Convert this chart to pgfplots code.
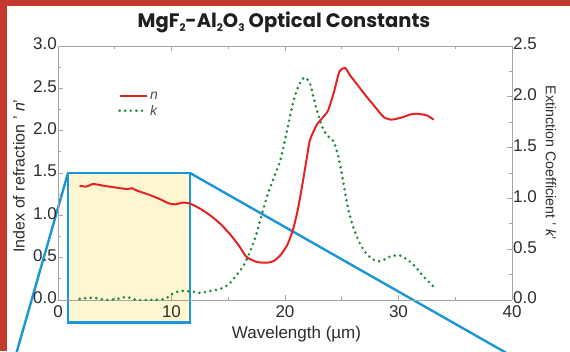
\documentclass[border=0pt]{standalone}
\usepackage{pgfplots}
\pgfplotsset{compat=1.18}
\usepackage{fontspec}
\setmainfont{Liberation Sans}
\newfontfamily\titlefont{Poppins}
\definecolor{nred}{RGB}{226,36,36}
\definecolor{kgreen}{RGB}{34,140,62}
\definecolor{cblue}{RGB}{28,150,214}
\definecolor{cyellow}{RGB}{253,246,208}
\definecolor{framered}{RGB}{196,58,46}
\definecolor{axgray}{RGB}{165,165,165}
\definecolor{txt}{RGB}{45,45,45}
\newcommand\tsub[1]{\raisebox{-0.35ex}{\fontsize{10.5}{10.5}\selectfont #1}}
\begin{document}
\begin{tikzpicture}
\useasboundingbox (-58pt,-51pt) rectangle (512pt,300pt);
\fill[white] (-58pt,-51pt) rectangle (512pt,300pt);
\begin{axis}[
  at={(0pt,0pt)}, anchor=south west,
  scale only axis, width=454pt, height=254pt,
  xmin=0, xmax=40, ymin=0, ymax=3,
  axis on top, clip=false,
  axis y line*=left,
  xtick={0,10,20,30,40}, minor xtick={5,15,25,35},
  ytick={0,0.5,1,1.5,2,2.5,3}, minor ytick={0.25,0.75,1.25,1.75,2.25,2.75},
  xticklabel pos=bottom,
  tick align=inside,
  major tick length=5pt, minor tick length=3pt,
  axis line style={axgray, line width=0.8pt},
  every tick/.style={axgray, line width=0.8pt},
  /pgf/number format/assume math mode=true,
  tick label style={font=\fontsize{17}{17}\selectfont, text=txt},
  yticklabel style={/pgf/number format/.cd, fixed, fixed zerofill, precision=1, /tikz/.cd, anchor=east, inner sep=0pt, xshift=-1pt, yshift=2pt},
  xticklabel style={anchor=north, inner sep=0pt, yshift=-5pt},
]
\fill[cyellow] (axis cs:0.88,-0.268) rectangle (axis cs:11.63,1.5);
\draw[cblue, line width=2.4pt, line join=miter] (axis cs:0.88,-0.268) rectangle (axis cs:11.63,1.5);
\draw[cblue, line width=2.4pt] (axis cs:0.88,1.5) -- (axis cs:-3.84,-0.709);
\draw[cblue, line width=2.4pt] (axis cs:11.63,1.5) -- (axis cs:40.6,-0.709);
\addplot[nred, line width=2pt, smooth, tension=0.4] coordinates {
(1.9,1.35) (2.5,1.34) (3.1,1.37) (4,1.35) (5,1.33) (6.1,1.31) (6.5,1.32) (7,1.29) (8.1,1.24) (9,1.19) (9.8,1.14) (10.3,1.13) (11.0,1.15) (11.6,1.14) (12.5,1.08) (13.4,1.00) (14.3,0.90) (15.2,0.77) (16.0,0.63) (16.6,0.51) (17.5,0.45) (18.4,0.44) (19.0,0.46) (19.6,0.53) (20.2,0.65) (20.7,0.83) (21.1,1.05) (21.5,1.34) (21.9,1.66) (22.2,1.89) (22.8,2.07) (23.3,2.15) (23.8,2.24) (24.3,2.45) (24.8,2.70) (25.3,2.74) (25.7,2.66) (26.5,2.52) (27.2,2.40) (28.0,2.27) (28.7,2.16) (29.4,2.13) (30.4,2.16) (31.0,2.19) (31.6,2.20) (32.5,2.18) (33.1,2.13)
};
\end{axis}
\begin{axis}[
  at={(0pt,0pt)}, anchor=south west,
  scale only axis, width=454pt, height=254pt,
  xmin=0, xmax=40, ymin=0, ymax=2.5,
  axis x line=none, axis y line*=right,
  ytick={0,0.5,1,1.5,2,2.5}, minor ytick={0.25,0.75,1.25,1.75,2.25},
  tick align=inside,
  major tick length=5pt, minor tick length=3pt,
  axis line style={axgray, line width=0.8pt},
  every tick/.style={axgray, line width=0.8pt},
  /pgf/number format/assume math mode=true,
  tick label style={font=\fontsize{17}{17}\selectfont, text=txt},
  yticklabel style={/pgf/number format/.cd, fixed, fixed zerofill, precision=1, /tikz/.cd, anchor=west, inner sep=0pt, xshift=1pt, yshift=2pt},
  legend style={at={(axis description cs:0.132,0.828)}, anchor=north west, draw=none, fill=none, row sep=0pt,
    font=\fontsize{14}{14}\selectfont\itshape, text=txt!85, inner sep=0pt},
  legend cell align=left,
  legend image code/.code={\draw[#1] (0pt,0pt) -- (27pt,0pt);},
]
\addlegendimage{nred, line width=2pt}
\addlegendentry{n}
\addplot[kgreen, line width=2.9pt, line cap=round, dash pattern=on 0pt off 5.6pt, smooth, tension=0.4] coordinates {
(1.9,0.01) (2.6,0.02) (3.3,0.02) (4.3,0.0) (5.2,0.01) (6.05,0.03) (6.9,0.0) (8,0.0) (9.4,0.01) (10.2,0.07) (11.0,0.09) (12.0,0.08) (12.5,0.07) (13.5,0.09) (14.3,0.11) (15.0,0.15) (15.4,0.20) (16.3,0.33) (16.9,0.47) (17.4,0.62) (17.9,0.82) (18.5,1.05) (19.0,1.2) (19.6,1.38) (20.2,1.68) (20.7,1.94) (21.1,2.08) (21.5,2.17) (21.8,2.19) (22.2,2.13) (22.5,2.0) (22.8,1.87) (23.4,1.67) (23.9,1.60) (24.3,1.56) (24.7,1.41) (25.0,1.25) (25.3,1.05) (25.6,0.88) (26.0,0.72) (26.5,0.58) (27.0,0.48) (27.6,0.41) (28.2,0.38) (28.8,0.40) (29.3,0.43) (30.1,0.44) (30.6,0.41) (31.2,0.36) (31.7,0.30) (32.2,0.23) (33.1,0.13)
};
\addlegendentry{k}
\end{axis}
\fill[framered] (-58pt,294pt) rectangle (512pt,300pt);
\fill[framered] (-58pt,-51pt) rectangle (-51pt,300pt);
\node[anchor=base, text=black!88, font=\titlefont\bfseries\fontsize{19.5}{19.5}\selectfont, inner sep=0pt] at (226pt,272pt) {MgF\tsub{2}-Al\tsub{2}O\tsub{3} Optical Constants};
\node[anchor=base, text=txt, font=\fontsize{17}{17}\selectfont, inner sep=0pt] at (238.5pt,-38pt) {Wavelength (µm)};
\node[rotate=90, text=txt, font=\fontsize{16}{16}\selectfont, inner sep=0pt] at (-39pt,124pt) {Index of refraction ' \textit{n}'};
\node[rotate=-90, text=txt, font=\fontsize{14.2}{14.2}\selectfont, inner sep=0pt] at (493pt,137pt) {Extinction Coefficient ' \textit{k}'};
\end{tikzpicture}
\end{document}
